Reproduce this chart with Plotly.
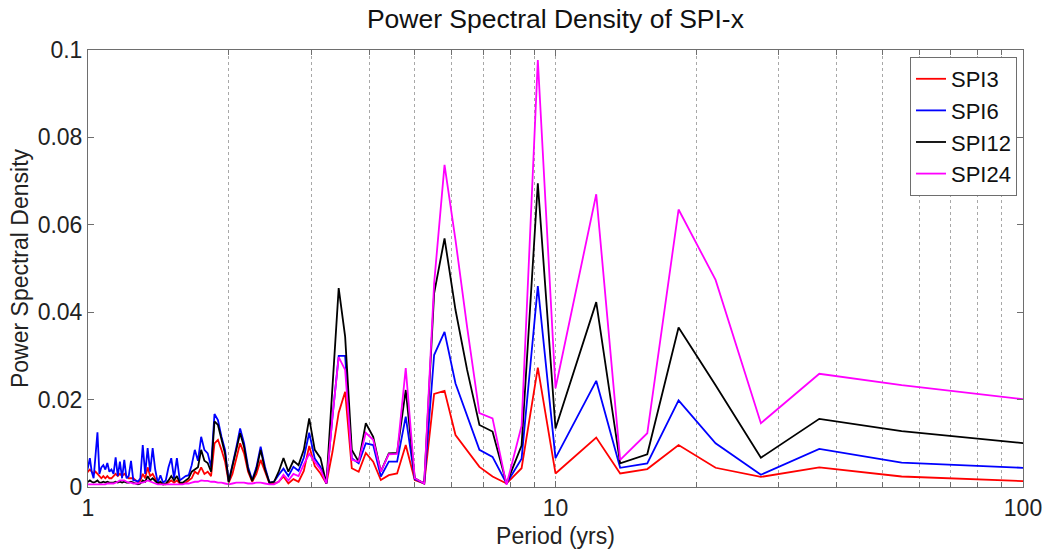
import plotly.graph_objects as go

# Spectral estimate on a 110-year record: harmonic k -> period 110/k years
RECORD_YEARS = 110
harmonic = list(range(1, 113))
period = [RECORD_YEARS / k for k in harmonic]

spi3 = [0.0012, 0.0024, 0.0045, 0.0023, 0.0044, 0.0096, 0.0041, 0.0031, 0.0113, 0.0069,
        0.0031, 0.0273, 0.0043, 0.0008, 0.0024, 0.0046, 0.0083, 0.0119, 0.0220, 0.0213,
        0.0008, 0.0016, 0.0096, 0.0031, 0.0027, 0.0016, 0.0058, 0.0078, 0.0035, 0.0043,
        0.0218, 0.0170, 0.0080, 0.0008, 0.0031, 0.0048, 0.0094, 0.0037, 0.0012, 0.0018,
        0.0008, 0.0024, 0.0012, 0.0008, 0.0008, 0.0035, 0.0062, 0.0030, 0.0012, 0.0035,
        0.0077, 0.0100, 0.0065, 0.0030, 0.0010, 0.0058, 0.0085, 0.0108, 0.0100, 0.0025,
        0.0035, 0.0030, 0.0045, 0.0030, 0.0035, 0.0020, 0.0015, 0.0010, 0.0008, 0.0008,
        0.0015, 0.0010, 0.0015, 0.0010, 0.0006, 0.0006, 0.0010, 0.0008, 0.0020, 0.0030,
        0.0025, 0.0045, 0.0020, 0.0030, 0.0015, 0.0010, 0.0015, 0.0020, 0.0020, 0.0020,
        0.0025, 0.0030, 0.0025, 0.0030, 0.0025, 0.0030, 0.0025, 0.0020, 0.0020, 0.0025,
        0.0020, 0.0025, 0.0020, 0.0025, 0.0030, 0.0035, 0.0030, 0.0035, 0.0040, 0.0035,
        0.0030, 0.0030]

spi6 = [0.0042, 0.0056, 0.0087, 0.0028, 0.0100, 0.0198, 0.0054, 0.0044, 0.0243, 0.0149,
        0.0066, 0.0460, 0.0065, 0.0008, 0.0069, 0.0085, 0.0161, 0.0237, 0.0355, 0.0302,
        0.0008, 0.0018, 0.0161, 0.0058, 0.0058, 0.0024, 0.0096, 0.0100, 0.0054, 0.0066,
        0.0300, 0.0300, 0.0160, 0.0008, 0.0046, 0.0065, 0.0124, 0.0067, 0.0037, 0.0046,
        0.0025, 0.0042, 0.0028, 0.0012, 0.0010, 0.0046, 0.0092, 0.0045, 0.0016, 0.0046,
        0.0100, 0.0134, 0.0090, 0.0050, 0.0012, 0.0085, 0.0115, 0.0153, 0.0167, 0.0046,
        0.0077, 0.0085, 0.0115, 0.0060, 0.0085, 0.0050, 0.0027, 0.0025, 0.0020, 0.0015,
        0.0066, 0.0020, 0.0066, 0.0045, 0.0015, 0.0010, 0.0027, 0.0010, 0.0040, 0.0089,
        0.0035, 0.0089, 0.0030, 0.0096, 0.0020, 0.0012, 0.0015, 0.0015, 0.0060, 0.0025,
        0.0020, 0.0062, 0.0020, 0.0058, 0.0025, 0.0068, 0.0030, 0.0040, 0.0035, 0.0055,
        0.0040, 0.0050, 0.0045, 0.0030, 0.0125, 0.0060, 0.0020, 0.0035, 0.0066, 0.0045,
        0.0030, 0.0040]

spi12 = [0.0096, 0.0128, 0.0156, 0.0067, 0.0233, 0.0365, 0.0075, 0.0054, 0.0423, 0.0270,
         0.0134, 0.0695, 0.0095, 0.0008, 0.0127, 0.0142, 0.0268, 0.0405, 0.0569, 0.0443,
         0.0008, 0.0020, 0.0222, 0.0078, 0.0077, 0.0035, 0.0115, 0.0146, 0.0058, 0.0085,
         0.0344, 0.0455, 0.0230, 0.0008, 0.0066, 0.0085, 0.0157, 0.0085, 0.0050, 0.0060,
         0.0035, 0.0066, 0.0035, 0.0012, 0.0010, 0.0040, 0.0085, 0.0040, 0.0014, 0.0040,
         0.0092, 0.0123, 0.0085, 0.0045, 0.0012, 0.0076, 0.0108, 0.0142, 0.0150, 0.0035,
         0.0055, 0.0060, 0.0085, 0.0045, 0.0040, 0.0035, 0.0020, 0.0015, 0.0010, 0.0010,
         0.0025, 0.0015, 0.0025, 0.0015, 0.0008, 0.0006, 0.0012, 0.0008, 0.0015, 0.0020,
         0.0015, 0.0025, 0.0012, 0.0015, 0.0008, 0.0006, 0.0008, 0.0010, 0.0012, 0.0010,
         0.0010, 0.0012, 0.0010, 0.0012, 0.0010, 0.0012, 0.0010, 0.0010, 0.0010, 0.0012,
         0.0010, 0.0012, 0.0010, 0.0010, 0.0015, 0.0012, 0.0010, 0.0012, 0.0015, 0.0012,
         0.0010, 0.0010]

spi24 = [0.0196, 0.0233, 0.0259, 0.0146, 0.0474, 0.0635, 0.0123, 0.0062, 0.0670, 0.0435,
         0.0226, 0.0977, 0.0140, 0.0005, 0.0157, 0.0169, 0.0366, 0.0565, 0.0737, 0.0466,
         0.0008, 0.0020, 0.0272, 0.0076, 0.0075, 0.0035, 0.0108, 0.0124, 0.0058, 0.0062,
         0.0268, 0.0297, 0.0160, 0.0008, 0.0040, 0.0058, 0.0076, 0.0052, 0.0025, 0.0030,
         0.0015, 0.0028, 0.0012, 0.0006, 0.0006, 0.0008, 0.0010, 0.0010, 0.0008, 0.0008,
         0.0010, 0.0010, 0.0010, 0.0008, 0.0006, 0.0008, 0.0010, 0.0010, 0.0012, 0.0012,
         0.0014, 0.0014, 0.0015, 0.0012, 0.0012, 0.0010, 0.0008, 0.0008, 0.0006, 0.0006,
         0.0006, 0.0006, 0.0006, 0.0006, 0.0005, 0.0005, 0.0005, 0.0006, 0.0008, 0.0010,
         0.0012, 0.0015, 0.0012, 0.0010, 0.0010, 0.0008, 0.0008, 0.0008, 0.0010, 0.0010,
         0.0012, 0.0015, 0.0015, 0.0015, 0.0012, 0.0010, 0.0008, 0.0008, 0.0008, 0.0008,
         0.0006, 0.0006, 0.0006, 0.0006, 0.0006, 0.0006, 0.0006, 0.0006, 0.0006, 0.0006,
         0.0006, 0.0006]

series_names = ["SPI3", "SPI6", "SPI12", "SPI24"]
series_values = [spi3, spi6, spi12, spi24]
series_colors = ["#ff0000", "#0000ff", "#000000", "#ff00ff"]

x_tick_vals = [1, 10, 100]
x_tick_text = ["1", "10", "100"]
x_minor_vals = [2, 3, 4, 5, 6, 7, 8, 9, 20, 30, 40, 50, 60, 70, 80, 90]
y_tick_vals = [0, 0.02, 0.04, 0.06, 0.08, 0.1]
y_tick_text = ["0", "0.02", "0.04", "0.06", "0.08", "0.1"]

FONT = "Liberation Sans, Arial, sans-serif"
FRAME = "#6e6e6e"
GRID = "#a8a8a8"

fig = go.Figure()
for name, vals, col in zip(series_names, series_values, series_colors):
    fig.add_trace(go.Scatter(x=period, y=vals, mode="lines", name=name,
                             line=dict(color=col, width=1.8)))

fig.update_layout(
    template="none",
    width=1044, height=550,
    margin=dict(l=88, r=21, t=50, b=63, pad=0),
    paper_bgcolor="white", plot_bgcolor="white",
    font=dict(family=FONT, size=23, color="#222"),
    title=dict(text="Power Spectral Density of SPI-x", x=0.532, xanchor="center",
               y=0.966, yanchor="middle", font=dict(size=26.5, color="#111")),
    showlegend=True,
    legend=dict(x=0.9936, xanchor="right", y=0.984, yanchor="top",
                bgcolor="white", bordercolor=FRAME, borderwidth=1,
                font=dict(size=22, color="#111"), tracegroupgap=0),
)

fig.update_xaxes(
    type="log", range=[0, 2], automargin=False,
    tickmode="array", tickvals=x_tick_vals, ticktext=x_tick_text,
    ticks="inside", ticklen=6, tickwidth=1, tickcolor=FRAME,
    showline=True, linecolor=FRAME, linewidth=1, mirror="ticks",
    showgrid=True, gridcolor=GRID, griddash="dot", gridwidth=1,
    minor=dict(tickmode="array", tickvals=x_minor_vals, ticks="inside", ticklen=5,
               tickwidth=1, tickcolor=FRAME, showgrid=True, gridcolor=GRID,
               griddash="dot", gridwidth=1),
    title=dict(text="Period (yrs)", standoff=8, font=dict(size=23)),
    tickfont=dict(size=23),
    zeroline=False,
)
fig.update_yaxes(
    range=[0, 0.1], automargin=False,
    tickmode="array", tickvals=y_tick_vals, ticktext=y_tick_text,
    ticks="inside", ticklen=6, tickwidth=1, tickcolor=FRAME,
    showline=True, linecolor=FRAME, linewidth=1, mirror="ticks",
    showgrid=False, zeroline=False,
    title=dict(text="Power Spectral Density", standoff=2, font=dict(size=23)),
    tickfont=dict(size=23),
)

fig.write_html("out.html")
